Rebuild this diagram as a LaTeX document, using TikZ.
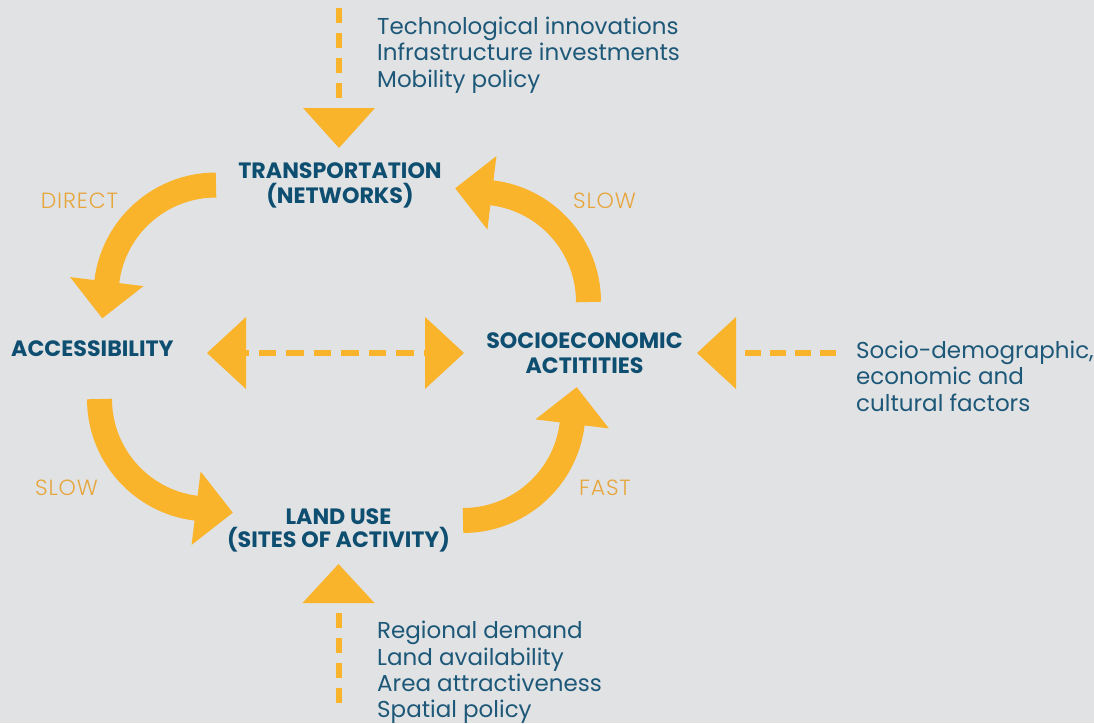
\documentclass[tikz,border=0pt]{standalone}
\usepackage{fontspec}
\setmainfont{Poppins}
\newfontfamily\lightfont[LetterSpace=4]{Poppins Light}
\usetikzlibrary{calc}

\definecolor{bgc}{HTML}{E1E2E4}
\definecolor{arroworange}{HTML}{F9B42B}
\definecolor{speedorange}{HTML}{E6A63C}
\definecolor{factorblue}{HTML}{1D5878}
\definecolor{stageblue}{HTML}{0E4E70}

\tikzset{
  band/.style={draw=arroworange, line width=25pt, line cap=butt},
  headfill/.style={fill=arroworange},
  dashline/.style={draw=arroworange, line width=6pt, dash pattern=on 15pt off 10pt},
  stage/.style={font=\bfseries\fontsize{22.2}{25}\selectfont, text=stageblue, inner sep=0pt, anchor=base},
  factor/.style={font=\fontsize{23}{27}\selectfont, text=factorblue, inner sep=0pt, anchor=base west},
  speed/.style={font=\lightfont\fontsize{22}{24}\selectfont, text=speedorange, inner sep=0pt, anchor=base},
}

% curved feedback arrow: #1 name, #2 tail, #3 start angle, #4 end angle, #5 heading at the head
\newcommand{\loopband}[5]{%
  \draw[band] (#2) arc[start angle=#3, end angle=#4, radius=110] coordinate (#1-end) -- ++(#5:3);
  \fill[headfill] ($(#1-end)+({#5+90}:37)$) -- ($(#1-end)+(#5:37)$) -- ($(#1-end)+({#5-90}:37)$) -- cycle;
}

\begin{document}
\begin{tikzpicture}[x=1pt, y=-1pt]
  \fill[bgc] (0,0) rectangle (1094,723);
  \useasboundingbox (0,0) rectangle (1094,723);

  % stage labels
  \node[stage] (trans1) at (340,178) {TRANSPORTATION};
  \node[stage] (trans2) at (340,203) {(NETWORKS)};
  \node[stage, anchor=base west] (access) at (11,356) {ACCESSIBILITY};
  \node[stage] (socio1) at (584.5,348) {SOCIOECONOMIC};
  \node[stage] (socio2) at (584.5,373) {ACTITITIES};
  \node[stage] (land1) at (338.5,524) {LAND USE};
  \node[stage] (land2) at (338.5,547) {(SITES OF ACTIVITY)};

  % speed labels
  \node[speed] (direct) at (79.5,208) {DIRECT};
  \node[speed] (slowtop) at (604.5,208) {SLOW};
  \node[speed] (slowbot) at (66.5,495) {SLOW};
  \node[speed] (fast) at (605,495) {FAST};

  % external factors
  \node[factor] (tech1) at (377,34) {Technological innovations};
  \node[factor] (tech2) at (377,60.5) {Infrastructure investments};
  \node[factor] (tech3) at (377,87) {Mobility policy};
  \node[factor] (soc1) at (856,358) {Socio-demographic,};
  \node[factor] (soc2) at (856,384) {economic and};
  \node[factor] (soc3) at (856,411) {cultural factors};
  \node[factor] (reg1) at (377,638) {Regional demand};
  \node[factor] (reg2) at (377,665) {Land availability};
  \node[factor] (reg3) at (377,691.5) {Area attractiveness};
  \node[factor] (reg4) at (377,717) {Spatial policy};

  % curved arrows of the cycle
  \coordinate (a1-tail) at (216,185);
  \coordinate (a2-tail) at (588.5,302);
  \coordinate (a3-tail) at (99.5,399);
  \coordinate (a4-tail) at (463,520.5);
  \loopband{a1}{a1-tail}{-90}{-173}{97}
  \loopband{a2}{a2-tail}{0}{-83}{187}
  \loopband{a3}{a3-tail}{-180}{-263}{7}
  \loopband{a4}{a4-tail}{90}{7}{-83}

  % top input: dashed line and head
  \coordinate (top-start) at (339,8);
  \coordinate (top-base) at (339,108);
  \draw[dashline] (top-start) -- (top-base);
  \fill[headfill] (303,108) -- (375,108) -- (339,148) -- cycle;

  % bottom input
  \coordinate (bot-start) at (338.5,703);
  \coordinate (bot-base) at (338.5,613);
  \draw[dashline] (bot-base) -- (bot-start);
  \fill[headfill] (302.5,603) -- (374.5,603) -- (338.5,564) -- cycle;

  % right input
  \coordinate (right-start) at (836,353);
  \coordinate (right-base) at (745,353);
  \draw[dashline, dash pattern=on 16pt off 9pt] (right-base) -- (right-start);
  \fill[headfill] (736,317) -- (736,389) -- (697,353) -- cycle;

  % two-way link between accessibility and activities
  \coordinate (mid-left) at (231,353);
  \coordinate (mid-right) at (441,353);
  \draw[dashline, dash pattern=on 17.5pt off 10pt] (mid-left) -- (mid-right);
  \fill[headfill] (246,317) -- (246,389) -- (207,353) -- cycle;
  \fill[headfill] (425,317) -- (425,389) -- (464,353) -- cycle;
\end{tikzpicture}
\end{document}
